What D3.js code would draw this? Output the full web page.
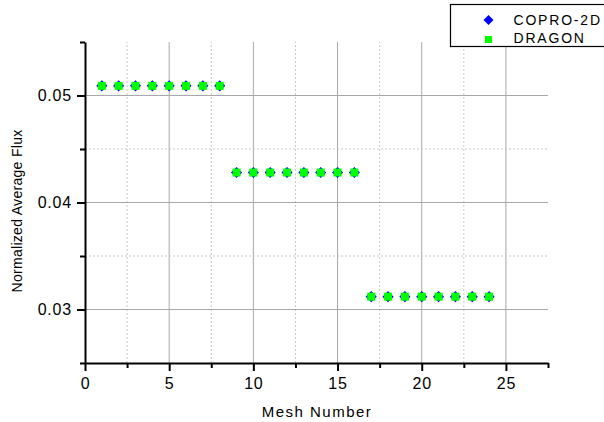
<!DOCTYPE html>
<html>
<head>
<meta charset="utf-8">
<script src="https://cdn.jsdelivr.net/npm/d3@7"></script>
<style>
  body { margin: 0; background: #fff; }
  text { font-family: "Liberation Sans", Arial, sans-serif; }
</style>
</head>
<body>
<svg id="chart"></svg>
<script>
let width = 604,
    height = 422;

// mesh numbers and flux values
let meshNumbers = [1, 2, 3, 4, 5, 6, 7, 8, 9, 10, 11, 12, 13, 14, 15, 16, 17, 18, 19, 20, 21, 22, 23, 24];
let coproFlux = [0.0509, 0.0509, 0.0509, 0.0509, 0.0509, 0.0509, 0.0509, 0.0509,
                 0.0428, 0.0428, 0.0428, 0.0428, 0.0428, 0.0428, 0.0428, 0.0428,
                 0.0312, 0.0312, 0.0312, 0.0312, 0.0312, 0.0312, 0.0312, 0.0312];
let dragonFlux = [0.0509, 0.0509, 0.0509, 0.0509, 0.0509, 0.0509, 0.0509, 0.0509,
                  0.0428, 0.0428, 0.0428, 0.0428, 0.0428, 0.0428, 0.0428, 0.0428,
                  0.0312, 0.0312, 0.0312, 0.0312, 0.0312, 0.0312, 0.0312, 0.0312];
let xTicks = [0, 5, 10, 15, 20, 25];
let xMinor = [2.5, 7.5, 12.5, 17.5, 22.5, 27.5];
let yTicks = [0.03, 0.04, 0.05];
let yMinor = [0.025, 0.035, 0.045, 0.055];
let seriesNames = ["COPRO-2D", "DRAGON"];

let margin = {left: 85, right: 56, top: 42, bottom: 59};

let svg = d3.select("svg#chart")
    .attr("width", width)
    .attr("height", height);

let x = d3.scaleLinear().domain([0, 27.5]).range([margin.left, width - margin.right]);
let y = d3.scaleLinear().domain([0.025, 0.055]).range([height - margin.bottom, margin.top]);

// grid
svg.append("g").selectAll("line")
    .data(xTicks.slice(1))
    .enter().append("line")
    .attr("x1", d => x(d)).attr("x2", d => x(d))
    .attr("y1", y(0.025)).attr("y2", y(0.055))
    .attr("stroke", "#a8a8a8").attr("stroke-width", 1);
svg.append("g").selectAll("line")
    .data(xMinor.slice(0, 5))
    .enter().append("line")
    .attr("x1", d => x(d)).attr("x2", d => x(d))
    .attr("y1", y(0.025)).attr("y2", y(0.055))
    .attr("stroke", "#c8c8c8").attr("stroke-dasharray", "2,2");
svg.append("g").selectAll("line")
    .data(yTicks)
    .enter().append("line")
    .attr("x1", x(0)).attr("x2", x(27.5))
    .attr("y1", d => y(d)).attr("y2", d => y(d))
    .attr("stroke", "#a8a8a8").attr("stroke-width", 1);
svg.append("g").selectAll("line")
    .data([0.035, 0.045])
    .enter().append("line")
    .attr("x1", x(0)).attr("x2", x(27.5))
    .attr("y1", d => y(d)).attr("y2", d => y(d))
    .attr("stroke", "#c8c8c8").attr("stroke-dasharray", "2,2");

// axes
svg.append("g")
    .attr("transform", `translate(0, ${y(0.025)})`)
    .call(d3.axisBottom(x).tickValues(xTicks).tickSize(8).tickSizeOuter(0).tickPadding(7));
svg.append("g")
    .attr("transform", `translate(0, ${y(0.025)})`)
    .call(d3.axisBottom(x).tickValues(xMinor).tickSize(5).tickFormat("").tickSizeOuter(0))
    .select(".domain").remove();
svg.append("g")
    .attr("transform", `translate(${x(0)}, 0)`)
    .call(d3.axisLeft(y).tickValues(yTicks).tickSize(8).tickSizeOuter(0).tickPadding(5).tickFormat(d3.format(".2f")));
svg.append("g")
    .attr("transform", `translate(${x(0)}, 0)`)
    .call(d3.axisLeft(y).tickValues(yMinor).tickSize(5).tickFormat("").tickSizeOuter(0))
    .select(".domain").remove();

svg.selectAll(".domain, .tick line").attr("stroke", "#000").attr("stroke-width", 2);
svg.selectAll(".tick text").attr("font-size", 16).attr("fill", "#000")
    .attr("letter-spacing", 0.8)
    .attr("font-family", "Liberation Sans, Arial, sans-serif");

// axis titles
svg.append("text")
    .attr("x", 317)
    .attr("y", 417)
    .attr("text-anchor", "middle")
    .attr("font-size", 15)
    .attr("letter-spacing", 1.5)
    .text("Mesh Number");
svg.append("text")
    .attr("transform", `translate(22, 211) rotate(-90)`)
    .attr("text-anchor", "middle")
    .attr("font-size", 14)
    .attr("letter-spacing", 0.3)
    .text("Normalized Average Flux");

// markers
let diamond = d3.symbol().type(d3.symbolSquare).size(62);
svg.append("g").selectAll("path")
    .data(meshNumbers)
    .enter().append("path")
    .attr("transform", (d, i) => `translate(${x(d)}, ${y(coproFlux[i])}) rotate(45)`)
    .attr("d", diamond)
    .attr("fill", "#0000ff");
svg.append("g").selectAll("rect")
    .data(meshNumbers)
    .enter().append("rect")
    .attr("x", (d, i) => x(d) - 4)
    .attr("y", (d, i) => y(dragonFlux[i]) - 4)
    .attr("width", 8)
    .attr("height", 8)
    .attr("fill", "#00ff00");

// legend
let legend = svg.append("g").attr("transform", "translate(450.5, 4.5)");
legend.append("rect")
    .attr("x", 0).attr("y", 0)
    .attr("width", 170).attr("height", 42)
    .attr("fill", "#fff").attr("stroke", "#000").attr("stroke-width", 1.2);
legend.append("path")
    .attr("transform", "translate(38, 15.5) rotate(45)")
    .attr("d", d3.symbol().type(d3.symbolSquare).size(50))
    .attr("fill", "#0000ff");
legend.append("rect")
    .attr("x", 34.5).attr("y", 31.5).attr("width", 7).attr("height", 7)
    .attr("fill", "#00ff00");
legend.selectAll("text.lab")
    .data(seriesNames)
    .enter().append("text")
    .attr("class", "lab")
    .attr("x", 63)
    .attr("y", (d, i) => 20.5 + i * 18)
    .attr("font-size", 14)
    .attr("letter-spacing", 1.8)
    .text(d => d);
</script>
</body>
</html>
